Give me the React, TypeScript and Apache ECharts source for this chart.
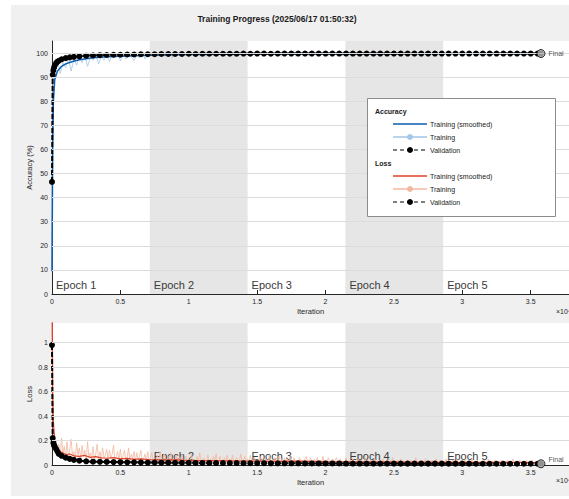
import React, { useEffect, useRef } from "react";
import * as echarts from "echarts";

const FONT = "Liberation Sans, Arial, sans-serif";

const epochEdges = [0, 7150, 14300, 21450, 28600, 35750];
const epochLabels = ["Epoch 1", "Epoch 2", "Epoch 3", "Epoch 4", "Epoch 5"];
const xTicks = [0, 5000, 10000, 15000, 20000, 25000, 30000, 35000];
const accTicks = [0, 10, 20, 30, 40, 50, 60, 70, 80, 90, 100];
const lossTicks = [0, 0.2, 0.4, 0.6, 0.8, 1];

// ---- Accuracy ----
const accTrainEarlyIter = [0, 10, 20, 30, 40, 60, 80, 100, 130, 160];
const accTrainEarly = [9.4, 38, 62, 78, 84, 88, 91, 89, 93, 90];
const accTrainStart = 200;
const accTrainStep = 200;
const accTrain = [
  93, 97, 91.5, 96, 94, 98, 92.5, 97.5, 95, 98.5,
  96, 99, 94.5, 98, 97, 99.5, 95.5, 98.5, 97, 99.5,
  96.5, 99, 98, 100, 96.8, 99.2, 97.5, 100, 98.2, 96.9,
  99.5, 98, 100, 97.6, 99.6, 98.8, 100, 98.5, 99.7, 100,
  98.6, 100, 99.4, 98.2, 100, 99.6, 98.9, 100, 99.3, 98.4,
  100, 99.5, 98.8, 100, 99.7, 98.6, 100, 99.2, 100, 98.9,
  99.8, 100, 98.7, 99.6, 100, 99.1, 98.5, 100, 99.7, 99.2,
  100, 98.8, 99.6, 100, 99.3, 100, 98.6, 99.8, 100, 99,
  99.6, 100, 99.2, 98.7, 100, 99.8, 99.1, 100, 98.9, 99.7,
  100, 99.3, 100, 98.8, 99.7, 100, 99.4, 99, 100, 99.6,
  98.9, 100, 99.8, 99.2, 100, 98.8, 99.6, 100, 99.4, 100,
  99.1, 99.8, 100, 99.3, 98.8, 100, 99.7, 100, 99.2, 99.8,
  100, 99, 99.6, 100, 99.4, 100, 98.9, 99.8, 100, 99.3,
  99.7, 100, 99.1, 100, 99.6, 99.2, 100, 98.9, 99.8, 100,
  99.4, 100, 99, 99.8, 100, 99.3, 100, 99.1, 99.7, 100,
  99.5, 99, 100, 99.8, 100, 99.2, 99.7, 100, 99, 99.8,
  100, 99.4, 100, 99.1, 99.8, 100, 99.6, 100, 99.2, 99.9,
  100, 99.5, 100, 99.2, 99.8, 100, 99.6, 100,
];
const accSmoothIter = [0, 20, 50, 100, 200, 400, 700, 1000, 1500, 2000, 3000, 4000, 6000, 8000, 10000, 15000, 20000, 25000, 30000, 35750];
const accSmooth = [9.4, 30, 60, 80, 89, 92.5, 94.5, 95.5, 96.5, 97.2, 98, 98.5, 98.9, 99.2, 99.4, 99.6, 99.7, 99.7, 99.8, 99.8];
const accValEarlyIter = [0, 50, 100, 150, 200, 300, 400, 500, 700, 1000, 1300, 1600, 2000, 2500, 3000];
const accValEarly = [46.5, 91, 92.8, 94, 94.8, 95.8, 96.4, 96.8, 97.4, 97.9, 98.2, 98.4, 98.6, 98.9, 99.0];
const valStart = 3500;
const valStep = 500;
const accVal = [
  99.1, 99.2, 99.3, 99.3, 99.4, 99.4, 99.5, 99.5, 99.5, 99.6,
  99.6, 99.6, 99.6, 99.7, 99.6, 99.7, 99.7, 99.7, 99.7, 99.7,
  99.7, 99.8, 99.7, 99.8, 99.8, 99.7, 99.8, 99.8, 99.8, 99.8,
  99.8, 99.8, 99.8, 99.8, 99.8, 99.8, 99.8, 99.8, 99.8, 99.8,
  99.8, 99.8, 99.8, 99.8, 99.8, 99.8, 99.8, 99.8, 99.8, 99.8,
  99.8, 99.8, 99.8, 99.8, 99.8, 99.8, 99.8, 99.8, 99.8, 99.8,
  99.8, 99.8, 99.8, 99.8, 99.8,
];
const finalIter = 35750;
const accFinal = 99.8;

// ---- Loss ----
const lossTrainEarlyIter = [0, 10, 20, 30, 40, 60, 80];
const lossTrainEarly = [1.9, 1.2, 0.85, 0.6, 0.45, 0.35, 0.28];
const lossTrainStart = 100;
const lossTrainStep = 100;
const lossTrain = [
  0.24, 0.12, 0.2, 0.09, 0.17, 0.08, 0.22, 0.1, 0.15, 0.07,
  0.19, 0.06, 0.13, 0.21, 0.07, 0.11, 0.05, 0.18, 0.08, 0.14,
  0.05, 0.16, 0.07, 0.12, 0.04, 0.19, 0.06, 0.1, 0.05, 0.15,
  0.04, 0.09, 0.17, 0.05, 0.11, 0.04, 0.14, 0.06, 0.08, 0.13,
  0.04, 0.12, 0.05, 0.09, 0.16, 0.03, 0.07, 0.11, 0.04, 0.13,
  0.03, 0.08, 0.12, 0.04, 0.06, 0.14, 0.03, 0.09, 0.05, 0.11,
  0.03, 0.1, 0.04, 0.07, 0.12, 0.03, 0.05, 0.09, 0.03, 0.11,
  0.02, 0.06, 0.1, 0.03, 0.05, 0.02, 0.08, 0.03, 0.11, 0.02,
  0.05, 0.09, 0.02, 0.04, 0.07, 0.02, 0.1, 0.03, 0.05, 0.02,
  0.08, 0.02, 0.06, 0.03, 0.09, 0.02, 0.04, 0.07, 0.02, 0.05,
  0.02, 0.09, 0.03, 0.05, 0.02, 0.07, 0.02, 0.1, 0.03, 0.04,
  0.06, 0.02, 0.03, 0.08, 0.02, 0.05, 0.02, 0.07, 0.03, 0.09,
  0.02, 0.04, 0.07, 0.02, 0.03, 0.06, 0.02, 0.08, 0.02, 0.05,
  0.03, 0.08, 0.02, 0.04, 0.06, 0.02, 0.03, 0.09, 0.02, 0.04,
  0.07, 0.02, 0.05, 0.02, 0.08, 0.03, 0.02, 0.06, 0.02, 0.04,
  0.02, 0.07, 0.03, 0.05, 0.02, 0.06, 0.02, 0.04, 0.08, 0.02,
  0.04, 0.02, 0.06, 0.02, 0.03, 0.07, 0.02, 0.05, 0.02, 0.06,
  0.02, 0.05, 0.02, 0.07, 0.03, 0.02, 0.06, 0.02, 0.04, 0.02,
  0.06, 0.02, 0.04, 0.02, 0.05, 0.07, 0.02, 0.03, 0.06, 0.02,
  0.03, 0.05, 0.02, 0.06, 0.02, 0.04, 0.02, 0.07, 0.02, 0.04,
  0.02, 0.06, 0.03, 0.02, 0.05, 0.02, 0.04, 0.06, 0.02, 0.03,
  0.05, 0.01, 0.03, 0.02, 0.06, 0.01, 0.02, 0.04, 0.01, 0.05,
  0.01, 0.03, 0.02, 0.05, 0.01, 0.04, 0.02, 0.01, 0.06, 0.02,
  0.03, 0.01, 0.04, 0.02, 0.01, 0.05, 0.02, 0.03, 0.01, 0.04,
  0.02, 0.05, 0.01, 0.03, 0.02, 0.01, 0.04, 0.02, 0.06, 0.01,
  0.03, 0.02, 0.04, 0.01, 0.05, 0.02, 0.01, 0.03, 0.02, 0.04,
  0.01, 0.04, 0.02, 0.03, 0.01, 0.06, 0.02, 0.01, 0.04, 0.02,
  0.03, 0.01, 0.05, 0.02, 0.01, 0.03, 0.02, 0.04, 0.01, 0.03,
  0.05, 0.02, 0.01, 0.04, 0.02, 0.03, 0.01, 0.05, 0.02, 0.01,
  0.03, 0.02, 0.04, 0.01, 0.03, 0.05, 0.01, 0.02, 0.04, 0.01,
  0.02, 0.04, 0.01, 0.03, 0.02, 0.01, 0.05, 0.02, 0.03, 0.01,
  0.04, 0.01, 0.02, 0.03, 0.01, 0.04, 0.02, 0.01, 0.05, 0.02,
  0.01, 0.03, 0.02, 0.04, 0.01, 0.02, 0.03, 0.01, 0.04, 0.02,
  0.03, 0.01, 0.04, 0.02, 0.01, 0.03, 0.05, 0.01, 0.02, 0.03,
  0.01, 0.04, 0.02, 0.01, 0.03, 0.02, 0.04, 0.01, 0.03, 0.02,
  0.04, 0.01, 0.02, 0.03, 0.01, 0.04, 0.02,
];
const lossSmoothIter = [0, 20, 50, 100, 200, 300, 400, 600, 800, 1000, 1300, 1600, 2000, 2400, 2800, 3200, 3600, 4000, 4500, 5000, 5500, 6000, 6500, 7000, 8000, 9000, 10000, 12000, 14000, 16000, 18000, 20000, 23000, 26000, 30000, 35750];
const lossSmooth = [1.9, 1.1, 0.6, 0.35, 0.2, 0.16, 0.13, 0.11, 0.1, 0.085, 0.09, 0.075, 0.07, 0.078, 0.062, 0.068, 0.058, 0.055, 0.06, 0.05, 0.054, 0.046, 0.05, 0.044, 0.04, 0.042, 0.036, 0.035, 0.032, 0.03, 0.031, 0.028, 0.026, 0.024, 0.022, 0.02];
const lossValEarlyIter = [0, 50, 100, 150, 200, 300, 400, 500, 700, 1000, 1300, 1600, 2000, 2500, 3000];
const lossValEarly = [0.98, 0.22, 0.18, 0.16, 0.15, 0.13, 0.11, 0.09, 0.075, 0.06, 0.05, 0.042, 0.035, 0.03, 0.027];
const lossVal = [
  0.026, 0.025, 0.024, 0.023, 0.022, 0.022, 0.021, 0.02, 0.02, 0.019,
  0.019, 0.018, 0.018, 0.018, 0.017, 0.017, 0.017, 0.016, 0.016, 0.016,
  0.016, 0.015, 0.015, 0.015, 0.015, 0.014, 0.014, 0.014, 0.014, 0.014,
  0.013, 0.013, 0.013, 0.013, 0.013, 0.013, 0.012, 0.012, 0.012, 0.012,
  0.012, 0.012, 0.012, 0.012, 0.011, 0.011, 0.011, 0.011, 0.011, 0.011,
  0.011, 0.011, 0.011, 0.011, 0.011, 0.01, 0.01, 0.01, 0.01, 0.01,
  0.01, 0.01, 0.01, 0.01, 0.01,
];
const lossFinal = 0.01;

const pairs = (xs: number[], ys: number[]) => xs.map((x, i) => [x, ys[i]]);
const regular = (start: number, step: number, ys: number[]) => ys.map((y, i) => [start + i * step, y]);

const C = {
  axis: "#262626",
  grid: "#dcdcdc",
  shade: "#e6e6e6",
  accTrain: "#a3c6e6",
  accSmooth: "#0b5cad",
  lossTrain: "#f2b8a0",
  lossSmooth: "#e2402a",
};

function xAxis(gridIndex: number) {
  return {
    type: "value",
    gridIndex,
    min: 0,
    max: 37800,
    axisLine: { show: true, lineStyle: { color: C.axis, width: 1 } },
    axisTick: { show: true, inside: true, length: 4, customValues: xTicks, lineStyle: { color: C.axis } },
    axisLabel: {
      customValues: xTicks,
      formatter: (v: number) => String(v / 10000),
      fontSize: 7,
      color: C.axis,
      margin: 4,
      fontFamily: FONT,
    },
    splitLine: { show: false },
    name: "Iteration",
    nameLocation: "middle",
    nameGap: 13,
    nameMoveOverlap: false,
    nameTextStyle: { fontSize: 7.5, color: C.axis, fontFamily: FONT },
  };
}

function yAxis(gridIndex: number, max: number, ticks: number[], name: string) {
  return {
    type: "value",
    gridIndex,
    min: 0,
    max,
    axisLine: { show: true, lineStyle: { color: C.axis, width: 1 } },
    axisTick: { show: true, inside: true, length: 4, customValues: ticks, lineStyle: { color: C.axis } },
    axisLabel: { customValues: ticks, fontSize: 7, color: C.axis, margin: 4, fontFamily: FONT },
    splitLine: { show: false },
    name,
    nameLocation: "middle",
    nameGap: 19,
    nameMoveOverlap: false,
    nameTextStyle: { fontSize: 7.5, color: C.axis, fontFamily: FONT },
  };
}

function bgSeries(idx: number, ticks: number[], showFirstLabel: boolean) {
  return {
    type: "line",
    xAxisIndex: idx,
    yAxisIndex: idx,
    data: [],
    z: 1,
    silent: true,
    markArea: {
      silent: true,
      data: epochLabels.map((lab, i) => [
        {
          xAxis: epochEdges[i],
          itemStyle: { color: i % 2 === 1 ? C.shade : "rgba(0,0,0,0)" },
          label: {
            show: i > 0 || showFirstLabel,
            formatter: lab,
            position: "insideBottomLeft",
            distance: 4,
            fontSize: 11,
            color: "#3a3a3a",
            fontFamily: FONT,
          },
        },
        { xAxis: epochEdges[i + 1] },
      ]),
    },
    markLine: {
      silent: true,
      symbol: ["none", "none"],
      label: { show: false },
      lineStyle: { color: C.grid, type: "solid", width: 1 },
      data: ticks.slice(1).map((v) => ({ yAxis: v })),
    },
  };
}

function legendRow(y: number, color: string, dashed: boolean, marker: string | null, text: string) {
  const els: any[] = [
    {
      type: "line",
      z: 101,
      shape: { x1: 393, y1: y, x2: 427, y2: y },
      style: { stroke: color, lineWidth: dashed ? 1.2 : 1.5, lineDash: dashed ? [4, 3] : null },
    },
  ];
  if (marker) {
    els.push({ type: "circle", z: 102, shape: { cx: 410, cy: y, r: 3 }, style: { fill: marker } });
  }
  els.push({
    type: "text",
    z: 101,
    x: 430,
    y,
    style: { text, fontSize: 7, fill: "#222", fontFamily: FONT, verticalAlign: "middle" },
  });
  return els;
}

export default function App() {
  const ref = useRef<HTMLDivElement>(null);

  useEffect(() => {
    if (!ref.current) return;
    const chart = echarts.init(ref.current, undefined, { renderer: "svg" });
    const valSeries = (idx: number, data: number[][]) => ({
      type: "line",
      xAxisIndex: idx,
      yAxisIndex: idx,
      z: 4,
      symbol: "circle",
      symbolSize: 6,
      showSymbol: true,
      itemStyle: { color: "#000" },
      lineStyle: { color: "#000", width: 2, type: [5, 2] },
      data,
    });
    const finalSeries = (idx: number, v: number, offsetY: number) => ({
      type: "scatter",
      xAxisIndex: idx,
      yAxisIndex: idx,
      z: 5,
      symbol: "circle",
      symbolSize: 8,
      itemStyle: { color: "#b5b5b5", borderColor: "#000", borderWidth: 1 },
      label: {
        show: true,
        formatter: "Final",
        position: "right",
        distance: 3,
        offset: [0, offsetY],
        fontSize: 7,
        color: "#222",
        fontFamily: FONT,
      },
      data: [[finalIter, v]],
    });
    const option: any = {
      animation: false,
      grid: [
        { left: 52, top: 41, width: 518, height: 253, show: true, backgroundColor: "#ffffff", borderWidth: 0 },
        { left: 52, top: 323, width: 518, height: 142, show: true, backgroundColor: "#ffffff", borderWidth: 0 },
      ],
      xAxis: [xAxis(0), xAxis(1)],
      yAxis: [yAxis(0, 105, accTicks, "Accuracy (%)"), yAxis(1, 1.16, lossTicks, "Loss")],
      series: [
        bgSeries(0, accTicks, true),
        {
          type: "line",
          xAxisIndex: 0,
          yAxisIndex: 0,
          z: 2,
          symbol: "none",
          lineStyle: { color: C.accTrain, width: 0.8 },
          data: [...pairs(accTrainEarlyIter, accTrainEarly), ...regular(accTrainStart, accTrainStep, accTrain)],
        },
        {
          type: "line",
          xAxisIndex: 0,
          yAxisIndex: 0,
          z: 3,
          symbol: "none",
          lineStyle: { color: C.accSmooth, width: 1.5 },
          data: pairs(accSmoothIter, accSmooth),
        },
        valSeries(0, [...pairs(accValEarlyIter, accValEarly), ...regular(valStart, valStep, accVal), [finalIter, accFinal]]),
        finalSeries(0, accFinal, 0),
        bgSeries(1, lossTicks, false),
        {
          type: "line",
          xAxisIndex: 1,
          yAxisIndex: 1,
          z: 2,
          symbol: "none",
          lineStyle: { color: C.lossTrain, width: 0.8 },
          data: [...pairs(lossTrainEarlyIter, lossTrainEarly), ...regular(lossTrainStart, lossTrainStep, lossTrain)],
        },
        {
          type: "line",
          xAxisIndex: 1,
          yAxisIndex: 1,
          z: 3,
          symbol: "none",
          lineStyle: { color: C.lossSmooth, width: 1.2 },
          data: pairs(lossSmoothIter, lossSmooth),
        },
        valSeries(1, [...pairs(lossValEarlyIter, lossValEarly), ...regular(valStart, valStep, lossVal), [finalIter, lossFinal]]),
        finalSeries(1, lossFinal, -4),
      ],
      graphic: [
        {
          type: "text",
          x: 277,
          y: 19,
          style: {
            text: "Training Progress (2025/06/17 01:50:32)",
            fontSize: 8.5,
            fontWeight: "bold",
            fill: "#1a1a1a",
            fontFamily: FONT,
            align: "center",
            verticalAlign: "middle",
          },
        },
        { type: "text", x: 556, y: 311, style: { text: "×10⁴", fontSize: 7, fill: C.axis, fontFamily: FONT, verticalAlign: "middle" } },
        { type: "text", x: 556, y: 480, style: { text: "×10⁴", fontSize: 7, fill: C.axis, fontFamily: FONT, verticalAlign: "middle" } },
        {
          type: "rect",
          z: 100,
          shape: { x: 367.5, y: 98.5, width: 188, height: 118 },
          style: { fill: "#ffffff", stroke: "#8c8c8c", lineWidth: 1 },
        },
        {
          type: "text",
          z: 101,
          x: 375,
          y: 111,
          style: { text: "Accuracy", fontSize: 7, fontWeight: "bold", fill: "#222", fontFamily: FONT, verticalAlign: "middle" },
        },
        ...legendRow(124, C.accSmooth, false, null, "Training (smoothed)"),
        ...legendRow(137, C.accTrain, false, C.accTrain, "Training"),
        ...legendRow(150, "#000", true, "#000", "Validation"),
        {
          type: "text",
          z: 101,
          x: 375,
          y: 163,
          style: { text: "Loss", fontSize: 7, fontWeight: "bold", fill: "#222", fontFamily: FONT, verticalAlign: "middle" },
        },
        ...legendRow(176, C.lossSmooth, false, null, "Training (smoothed)"),
        ...legendRow(189, C.lossTrain, false, C.lossTrain, "Training"),
        ...legendRow(202, "#000", true, "#000", "Validation"),
      ],
    };
    chart.setOption(option);
    return () => chart.dispose();
  }, []);

  return (
    <div style={{ position: "fixed", left: 0, top: 0, width: 569, height: 499, background: "#ffffff", overflow: "hidden" }}>
      <div style={{ position: "absolute", left: 11, top: 5, width: 558, height: 491, background: "#f0f0f0" }} />
      <div ref={ref} style={{ position: "absolute", left: 0, top: 0, width: 569, height: 499 }} />
    </div>
  );
}
